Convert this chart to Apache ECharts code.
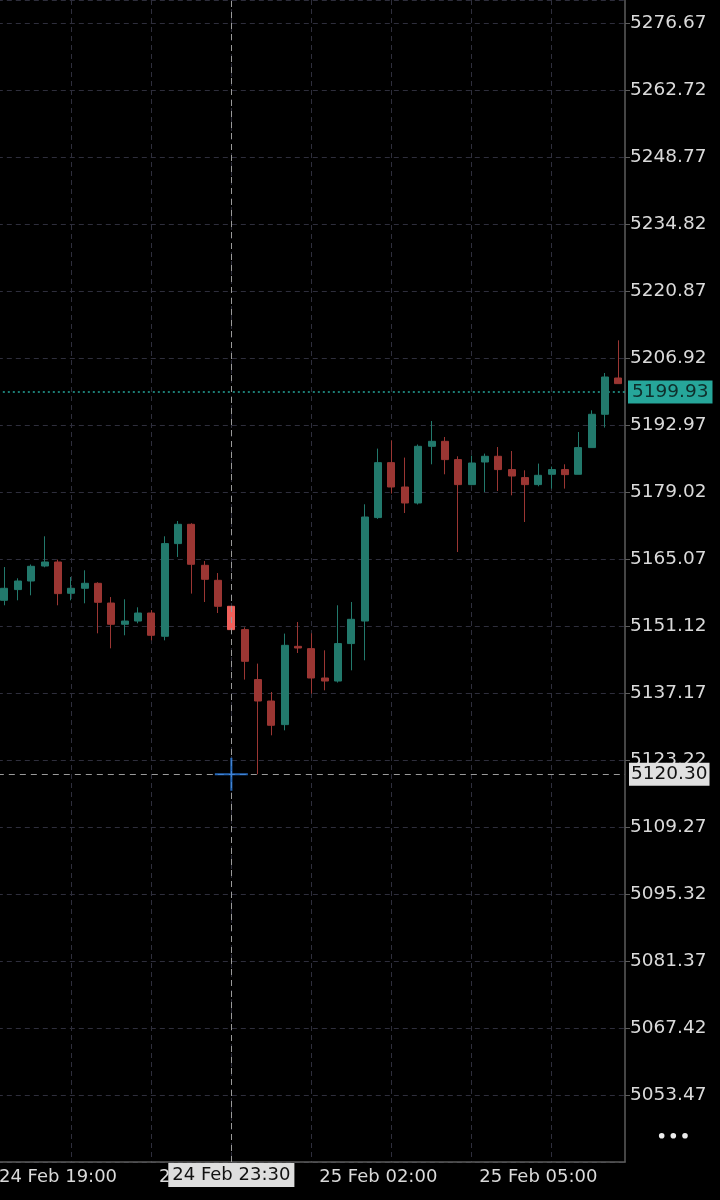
<!DOCTYPE html>
<html>
<head>
<meta charset="utf-8">
<script src="https://cdn.jsdelivr.net/npm/echarts@6/dist/echarts.min.js"></script>
<style>
html,body{margin:0;padding:0;background:#000;overflow:hidden;}
/* first candle is cut by the left edge, so the chart starts a little off screen */
#chart{width:724px;height:1200px;margin-left:-4px;}
</style>
</head>
<body>
<div id="chart"></div>
<script>
// 15 min bars, market break between 22:00 and 23:15
var times = [
	'24 Feb 18:15','24 Feb 18:30','24 Feb 18:45','24 Feb 19:00','24 Feb 19:15','24 Feb 19:30','24 Feb 19:45','24 Feb 20:00',
	'24 Feb 20:15','24 Feb 20:30','24 Feb 20:45','24 Feb 21:00','24 Feb 21:15','24 Feb 21:30','24 Feb 21:45','24 Feb 22:00',
	'24 Feb 23:15','24 Feb 23:30','24 Feb 23:45','25 Feb 00:00','25 Feb 00:15','25 Feb 00:30','25 Feb 00:45','25 Feb 01:00',
	'25 Feb 01:15','25 Feb 01:30','25 Feb 01:45','25 Feb 02:00','25 Feb 02:15','25 Feb 02:30','25 Feb 02:45','25 Feb 03:00',
	'25 Feb 03:15','25 Feb 03:30','25 Feb 03:45','25 Feb 04:00','25 Feb 04:15','25 Feb 04:30','25 Feb 04:45','25 Feb 05:00',
	'25 Feb 05:15','25 Feb 05:30','25 Feb 05:45','25 Feb 06:00','25 Feb 06:15','25 Feb 06:30','25 Feb 06:45'
];
var opens = [
	5156.54,5158.77,5160.56,5163.68,5164.52,5158.00,5159.04,5160.08,5155.97,5151.54,5152.22,5153.89,
	5149.04,5168.35,5172.37,5163.83,5160.70,5155.29,5150.43,5140.02,5135.56,5130.64,5146.95,5146.47,
	5140.35,5139.72,5147.52,5152.22,5173.77,5185.22,5180.14,5176.81,5188.62,5189.66,5185.85,5180.64,
	5185.35,5186.54,5183.77,5182.10,5180.64,5182.79,5183.77,5182.79,5188.35,5195.29,5202.85
];
var closes = [
	5159.04,5160.56,5163.62,5164.52,5157.93,5159.04,5160.08,5156.12,5151.54,5152.22,5153.89,5149.25,
	5168.35,5172.37,5164.04,5160.91,5155.29,5150.43,5143.83,5135.56,5130.50,5147.16,5146.60,5140.35,
	5139.72,5147.52,5152.58,5173.89,5185.22,5180.14,5176.81,5188.62,5189.66,5185.85,5180.64,5185.14,
	5186.54,5183.77,5182.43,5180.64,5182.58,5183.77,5182.72,5188.35,5195.29,5203.06,5201.68
];
var lows = [
	5155.50,5156.54,5157.58,5163.41,5155.50,5156.54,5155.91,5149.66,5146.54,5149.25,5151.75,5148.20,
	5148.20,5165.56,5157.93,5156.18,5153.89,5149.66,5140.02,5120.30,5128.41,5129.45,5145.56,5137.10,
	5137.79,5139.40,5141.95,5144.04,5173.50,5178.77,5174.72,5176.50,5184.87,5182.79,5166.60,5180.50,
	5179.10,5179.31,5178.41,5172.85,5180.29,5179.81,5179.81,5182.79,5188.35,5192.52,5201.68
];
var highs = [
	5163.47,5161.12,5164.00,5169.87,5165.02,5161.39,5162.79,5160.30,5157.22,5156.75,5155.08,5154.50,
	5169.87,5173.06,5172.60,5164.72,5162.22,5155.29,5150.90,5143.35,5137.43,5149.60,5152.02,5149.66,
	5146.12,5155.50,5156.18,5176.54,5188.14,5189.87,5186.27,5189.00,5193.89,5190.56,5186.54,5186.68,
	5187.10,5188.47,5187.64,5183.62,5185.02,5184.40,5184.87,5191.60,5196.12,5203.89,5210.70
];
var labelTimes = ['24 Feb 19:00','24 Feb 22:00','25 Feb 02:00','25 Feb 05:00'];
var yMin = 5039.52;
var yStep = 13.95;
var yMax = 5281.6;
var lastPrice = 5199.93;
var crossTime = '24 Feb 23:30';
var crossPrice = 5120.30;

var upColor = '#22796c';
var downColor = '#9b3633';
var hiColor = '#f0605b';
var axisColor = '#5c5c5c';
var gridColor = '#2e2e3c';
var textColor = '#dadada';
var font = 'DejaVu Sans';

var candles = [];
for (var i = 0; i < times.length; i++) {
	var item = {value: [opens[i], closes[i], lows[i], highs[i]]};
	if (times[i] === crossTime) {
		item.itemStyle = {color: hiColor, color0: hiColor, borderColor: hiColor, borderColor0: hiColor};
	}
	candles.push(item);
}

var myChart = echarts.init(document.getElementById('chart'));
myChart.setOption({
	backgroundColor: '#000',
	animation: false,
	grid: {left: 0, right: 95, top: 0, bottom: 38},
	xAxis: {
		type: 'category',
		data: times,
		boundaryGap: true,
		axisLine: {lineStyle: {color: axisColor, width: 1.5}},
		axisTick: {show: false},
		axisLabel: {
			interval: function (idx, val) { return labelTimes.indexOf(val) >= 0; },
			color: textColor, fontFamily: font, fontSize: 18, margin: 6,
			padding: [0, 0, 0, 27]
		},
		splitLine: {
			show: true,
			alignWithLabel: true,
			interval: function (idx) { return idx % 6 === 5; },
			lineStyle: {color: gridColor, type: [5, 4]}
		},
		axisPointer: {
			show: true, type: 'line', value: crossTime, status: 'show', triggerTooltip: false,
			lineStyle: {color: '#9a9a9a', type: [6, 5], width: 1},
			label: {
				show: true, backgroundColor: '#dedede', color: '#111', fontFamily: font, fontSize: 18,
				padding: [3, 4], margin: 1, borderRadius: 0
			}
		}
	},
	yAxis: {
		type: 'value',
		position: 'right',
		min: yMin, max: yMax, interval: yStep,
		axisLine: {show: true, lineStyle: {color: axisColor, width: 1.5}},
		axisTick: {show: true, length: 5, lineStyle: {color: axisColor}},
		axisLabel: {
			color: textColor, fontFamily: font, fontSize: 18.5, margin: 5,
			showMinLabel: false, showMaxLabel: false,
			formatter: function (v) { return v.toFixed(2); }
		},
		splitLine: {lineStyle: {color: gridColor, type: [5, 4]}},
		axisPointer: {
			show: true, type: 'line', value: crossPrice, status: 'show', triggerTooltip: false,
			lineStyle: {color: '#9a9a9a', type: [6, 5], width: 1},
			label: {
				show: true, backgroundColor: '#e0e0e0', color: '#111', fontFamily: font, fontSize: 18.5,
				padding: [2, 2], margin: 4, borderRadius: 0,
				formatter: function (p) { return p.value.toFixed(2); }
			}
		}
	},
	series: [{
		type: 'candlestick',
		data: candles,
		barWidth: 7.5,
		itemStyle: {color: upColor, color0: downColor, borderColor: upColor, borderColor0: downColor, borderWidth: 1},
		markLine: {
			silent: true, symbol: 'none', z: 1,
			data: [{yAxis: lastPrice}],
			lineStyle: {color: '#26a69a', type: [2, 3], width: 1.5},
			label: {
				position: 'end', distance: 3, formatter: lastPrice.toFixed(2),
				backgroundColor: '#26a69a', color: '#0f2e2b', fontFamily: font, fontSize: 18.5,
				padding: [2, 4]
			}
		}
	}, {
		// crosshair marker
		type: 'scatter',
		z: 100,
		data: [[crossTime, crossPrice]],
		symbol: 'path://M0,15H32V17H0Z M15,0H17V32H15Z',
		symbolSize: 33,
		itemStyle: {color: '#2d7fe3'}
	}],
	graphic: [
		{type: 'circle', shape: {cx: 665.7, cy: 1135.7, r: 2.8}, style: {fill: '#ececec'}},
		{type: 'circle', shape: {cx: 677.3, cy: 1135.7, r: 2.8}, style: {fill: '#ececec'}},
		{type: 'circle', shape: {cx: 689, cy: 1135.7, r: 2.8}, style: {fill: '#ececec'}}
	]
});
</script>
</body>
</html>
